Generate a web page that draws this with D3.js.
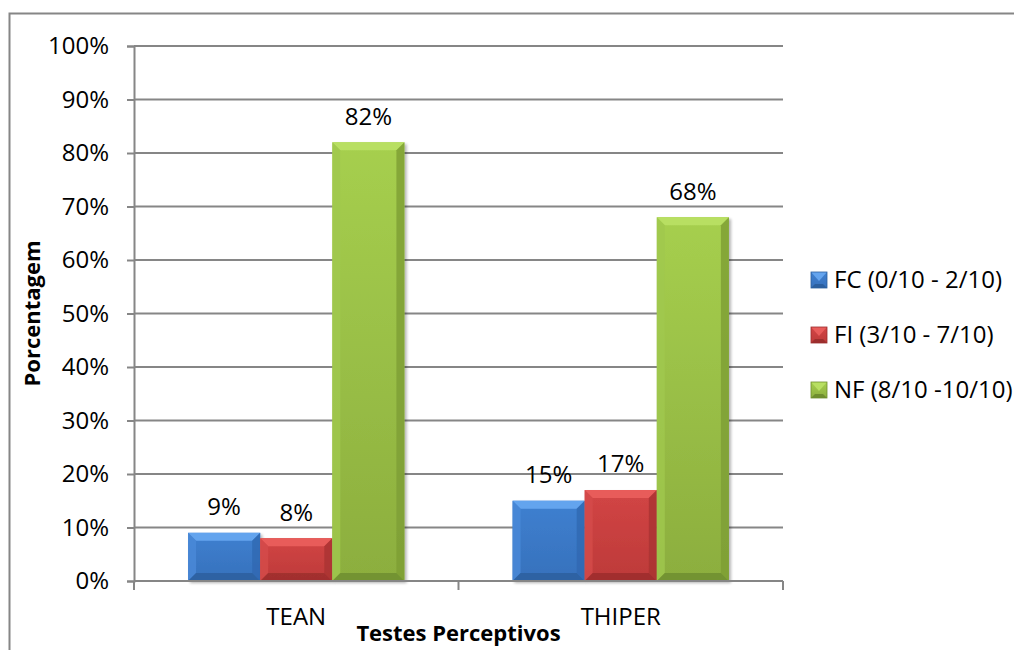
<!DOCTYPE html>
<html>
<head>
<meta charset="utf-8">
<script src="https://cdn.jsdelivr.net/npm/d3@7"></script>
<style>
  html, body { margin: 0; padding: 0; background: #fff; }
  svg { display: block; }
  text { font-family: "Open Sans", "Noto Sans", sans-serif; fill: #000; }
</style>
</head>
<body>
<svg id="chart" width="1014" height="650"></svg>
<script>
// Chart data
const categories = ["TEAN", "THIPER"];
const seriesNames = ["FC (0/10 - 2/10)", "FI (3/10 - 7/10)", "NF (8/10 -10/10)"];
const fcValues = [9, 15];
const fiValues = [8, 17];
const nfValues = [82, 68];
const yTicks = [0, 10, 20, 30, 40, 50, 60, 70, 80, 90, 100];
const yTitle = "Porcentagem";
const xTitle = "Testes Perceptivos";

// Fill palette per series: face gradient plus bevel tones
const palette = [
  { faceTop: "#3f80d0", faceBottom: "#3671bc", top: "#64a4ee", left: "#4a8ad8", right: "#3069b1", bottom: "#2b5f9f" },
  { faceTop: "#d24545", faceBottom: "#bd3a39", top: "#e85c5a", left: "#d44b4a", right: "#a93332", bottom: "#9c2e2d" },
  { faceTop: "#a6cf4e", faceBottom: "#8cae3e", top: "#b8df62", left: "#a0c84f", right: "#7d9e34", bottom: "#6f8e2e" }
];

const seriesValues = [fcValues, fiValues, nfValues];
const fontSize = 24;
const titleSize = 22;

const svg = d3.select("#chart");
const defs = svg.append("defs");

palette.forEach((c, i) => {
  const lg = defs.append("linearGradient").attr("id", "face" + i)
    .attr("x1", 0).attr("y1", 0).attr("x2", 0).attr("y2", 1);
  lg.append("stop").attr("offset", "0%").attr("stop-color", c.faceTop);
  lg.append("stop").attr("offset", "100%").attr("stop-color", c.faceBottom);
});

// Outer chart frame
svg.append("rect")
  .attr("x", 9.5).attr("y", 13.5)
  .attr("width", 1010).attr("height", 700)
  .attr("fill", "none").attr("stroke", "#868686").attr("stroke-width", 2);

const plot = { left: 134, right: 783, top: 46, bottom: 581 };

const x0 = d3.scaleBand().domain(categories).range([plot.left, plot.right]).paddingInner(0).paddingOuter(0);
const x1 = d3.scaleBand().domain(d3.range(seriesNames.length)).range([0, x0.bandwidth()]).paddingInner(0).paddingOuter(0.75);
const y = d3.scaleLinear().domain([0, 100]).range([plot.bottom, plot.top]);

const gridColor = "#868686";

// Horizontal gridlines
svg.append("g")
  .selectAll("line")
  .data(yTicks.filter(d => d > 0))
  .join("line")
  .attr("x1", plot.left).attr("x2", plot.right)
  .attr("y1", d => y(d)).attr("y2", d => y(d))
  .attr("stroke", gridColor).attr("stroke-width", 2);

// Y axis
const yAxis = d3.axisLeft(y).tickValues(yTicks).tickFormat(d => d + "%").tickSize(7).tickPadding(18);
const gy = svg.append("g").attr("transform", `translate(${plot.left},0)`).call(yAxis);
gy.select(".domain").attr("stroke", gridColor).attr("stroke-width", 2);
gy.selectAll(".tick line").attr("stroke", gridColor).attr("stroke-width", 2);
gy.selectAll(".tick text")
  .attr("font-family", "'Open Sans', sans-serif")
  .attr("font-size", fontSize).attr("fill", "#000");

// Soft drop shadow for the bars
const shadow = defs.append("filter").attr("id", "barShadow").attr("x", "-20%").attr("y", "-20%").attr("width", "140%").attr("height", "140%");
shadow.append("feGaussianBlur").attr("in", "SourceAlpha").attr("stdDeviation", 1.5);
shadow.append("feOffset").attr("dx", 1.5).attr("dy", 2).attr("result", "off");
shadow.append("feComponentTransfer").append("feFuncA").attr("type", "linear").attr("slope", 0.3);
const merge = shadow.append("feMerge");
merge.append("feMergeNode");
merge.append("feMergeNode").attr("in", "SourceGraphic");

const barData = [];
categories.forEach((c, ci) => {
  seriesValues.forEach((vals, si) => {
    barData.push({ cat: c, s: si, v: vals[ci] });
  });
});

const poly = pts => pts.map(p => p.join(",")).join(" ");

// Bars with bevelled edges
const bars = svg.append("g").selectAll("g.bar")
  .data(barData)
  .join("g")
  .attr("class", "bar")
  .attr("filter", "url(#barShadow)");

bars.each(function(d) {
  const g = d3.select(this);
  const bx = x0(d.cat) + x1(d.s);
  const bw = x1.bandwidth();
  const by = y(d.v);
  const bh = y(0) - by;
  const b = Math.min(8, bh / 2);
  const c = palette[d.s];
  g.append("rect").attr("x", bx).attr("y", by).attr("width", bw).attr("height", bh).attr("fill", `url(#face${d.s})`);
  g.append("polygon").attr("points", poly([[bx, by], [bx + bw, by], [bx + bw - b, by + b], [bx + b, by + b]])).attr("fill", c.top);
  g.append("polygon").attr("points", poly([[bx, by], [bx + b, by + b], [bx + b, by + bh - b], [bx, by + bh]])).attr("fill", c.left).attr("opacity", 0.8);
  g.append("polygon").attr("points", poly([[bx + bw, by], [bx + bw, by + bh], [bx + bw - b, by + bh - b], [bx + bw - b, by + b]])).attr("fill", c.right).attr("opacity", 0.8);
  g.append("polygon").attr("points", poly([[bx, by + bh], [bx + b, by + bh - b], [bx + bw - b, by + bh - b], [bx + bw, by + bh]])).attr("fill", c.bottom).attr("opacity", 0.85);
});

// X axis
const gx = svg.append("g").attr("transform", `translate(0,${plot.bottom})`);
gx.append("line").attr("x1", plot.left).attr("x2", plot.right).attr("y1", 0).attr("y2", 0)
  .attr("stroke", gridColor).attr("stroke-width", 2);
const boundaries = categories.map(c => x0(c)).concat([x0(categories[categories.length - 1]) + x0.bandwidth()]);
gx.selectAll("line.tk").data(boundaries).join("line").attr("class", "tk")
  .attr("x1", d => d).attr("x2", d => d).attr("y1", 0).attr("y2", 9)
  .attr("stroke", gridColor).attr("stroke-width", 2);
gx.selectAll("text.cat").data(categories).join("text").attr("class", "cat")
  .attr("x", d => x0(d) + x0.bandwidth() / 2)
  .attr("y", 44)
  .attr("text-anchor", "middle")
  .attr("font-size", fontSize)
  .text(d => d);

// Value labels
svg.append("g").selectAll("text")
  .data(barData)
  .join("text")
  .attr("x", d => x0(d.cat) + x1(d.s) + x1.bandwidth() / 2)
  .attr("y", d => y(d.v) - 26)
  .attr("dy", "0.35em")
  .attr("text-anchor", "middle")
  .attr("font-size", fontSize)
  .text(d => d.v + "%");

// Axis titles
svg.append("text")
  .attr("transform", `translate(40,${(plot.top + plot.bottom) / 2}) rotate(-90)`)
  .attr("text-anchor", "middle")
  .attr("font-size", titleSize).attr("font-weight", "bold")
  .text(yTitle);

svg.append("text")
  .attr("x", (plot.left + plot.right) / 2).attr("y", 641)
  .attr("text-anchor", "middle")
  .attr("font-size", titleSize).attr("font-weight", "bold")
  .text(xTitle);

// Legend
const legend = svg.append("g").selectAll("g")
  .data(seriesNames)
  .join("g")
  .attr("transform", (d, i) => `translate(811,${280 + i * 55})`);
legend.each(function(d, i) {
  const g = d3.select(this);
  const c = palette[i];
  const s = 16, b = 4;
  g.append("rect").attr("x", 0).attr("y", -s / 2).attr("width", s).attr("height", s).attr("fill", `url(#face${i})`);
  g.append("polygon").attr("points", poly([[0, -s / 2], [s, -s / 2], [s / 2, 1], [s / 2, 1]])).attr("fill", c.top);
  g.append("polygon").attr("points", poly([[0, s / 2], [b, s / 2 - b], [s - b, s / 2 - b], [s, s / 2]])).attr("fill", c.bottom);
  g.append("rect").attr("x", 0).attr("y", -s / 2).attr("width", s).attr("height", s).attr("fill", "none").attr("stroke", c.bottom).attr("stroke-width", 0.8);
  g.append("text").attr("x", 23).attr("y", 0).attr("dy", "0.35em").attr("font-size", fontSize).text(d);
});
</script>
</body>
</html>
